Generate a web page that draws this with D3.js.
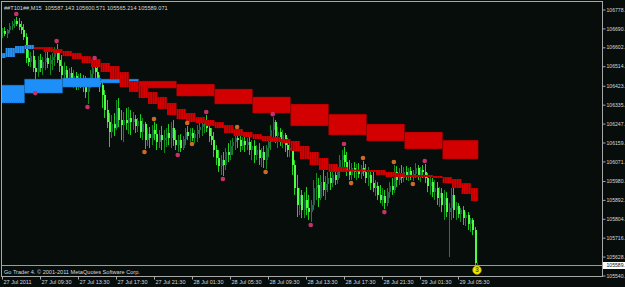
<!DOCTYPE html>
<html>
<head>
<meta charset="utf-8">
<script src="https://cdn.jsdelivr.net/npm/d3@7"></script>
<style>
body { margin: 0; background: #060d0b; overflow: hidden; }
text { font-family: "Liberation Sans", Arial, sans-serif; }
</style>
</head>
<body>
<script>
// M15 bars, 27 Jul 05:30 .. 29 Jul 07:30
const opens = [
106668,106678,106664,106682,106701,106710,106724,106710,106696,106682,
106650,106552,106533,106561,106505,106487,106543,106505,106533,106552,
106524,106543,106557,106580,106543,106515,106473,106496,106459,106482,
106450,106468,106431,106459,106440,106422,106394,106431,106478,106505,
106487,106450,106426,106380,106310,106254,106208,106245,106226,106319,
106264,106240,106264,106250,106273,106254,106268,106236,106259,106208,
106245,106170,106198,106180,106217,106198,106161,106194,106170,106180,
106203,106180,106226,106170,106147,106170,106133,106175,106208,106189,
106203,106180,106198,106217,106231,106245,106259,106226,106189,106170,
106124,106087,106049,106077,106054,106115,106101,106143,106161,106180,
106170,106143,106166,106147,106161,106124,106143,106101,106124,106087,
106115,106077,106133,106161,106217,106254,106189,106208,106170,106194,
106147,106124,106133,106054,105947,105868,105915,105845,105891,105854,
105835,105868,105947,105961,105901,105975,105938,105966,105994,105970,
106008,105984,106031,106077,106101,106068,106031,106008,106040,106022,
106031,106012,106040,106022,105994,106008,105970,105947,105956,105915,
105891,105910,105877,105928,105956,105938,106022,105984,106012,105994,
106022,106003,106026,105998,106012,106040,106008,106031,106022,105994,
105956,105975,105928,105947,105901,105924,105868,105901,105835,105854,
105915,105845,105863,105826,105845,105807,105821,105780,105798,105752,
105587.143];
const highs = [
106692,106696,106687,106715,106724,106734,106743,106738,106724,106710,
106668,106589,106580,106589,106543,106561,106571,106557,106580,106589,
106566,106575,106603,106617,106589,106566,106533,106515,106505,106510,
106496,106487,106478,106482,106473,106468,106450,106496,106524,106538,
106515,106473,106440,106403,106357,106296,106287,106296,106357,106366,
106310,106301,106319,106324,106310,106301,106287,106273,106291,106273,
106254,106226,106231,106240,106254,106245,106217,106236,106217,106226,
106245,106254,106264,106217,106194,106198,106189,106226,106236,106226,
106226,106217,106240,106254,106264,106273,106287,106264,106226,106208,
106147,106124,106101,106115,106133,106156,106170,106180,106203,106217,
106194,106184,106189,106180,106184,106170,106170,106147,106156,106133,
106143,106147,106180,106240,106277,106264,106231,106226,106217,106203,
106180,106170,106147,106077,106008,105947,105938,105928,105952,105915,
105891,105984,106017,105994,106008,106031,106003,106022,106031,106040,
106045,106054,106101,106124,106138,106115,106077,106063,106068,106059,
106063,106054,106073,106059,106045,106031,106022,105984,105975,105961,
105947,105938,105947,105975,105994,106054,106049,106040,106054,106045,
106049,106040,106045,106031,106063,106054,106045,106054,106059,106017,
106003,105994,105984,105975,105952,105947,105938,105928,105877,105947,
105952,105882,105877,105854,105863,105835,105835,105807,105807,105766,
105600.571];
const lows = [
106645,106654,106645,106668,106682,106692,106701,106682,106664,106636,
106529,106515,106510,106487,106403,106464,106487,106473,106496,106505,
106473,106496,106515,106529,106487,106436,106426,106431,106417,106426,
106412,106403,106403,106412,106394,106366,106338,106412,106450,106459,
106422,106394,106319,106273,106226,106138,106180,106189,106217,106231,
106170,106161,106217,106198,106194,106217,106203,106208,106180,106170,
106129,106143,106133,106147,106170,106124,106133,106124,106110,106138,
106147,106133,106143,106124,106115,106115,106124,106147,106170,106161,
106166,106156,106161,106180,106189,106203,106208,106161,106147,106091,
106054,106022,106008,106003,106031,106068,106077,106101,106124,106133,
106115,106124,106115,106124,106101,106077,106063,106077,106054,106045,
106040,106035,106091,106124,106170,106156,106133,106143,106133,106115,
106091,106091,106008,105915,105812,105821,105807,105807,105821,105798,
105789,105845,105891,105859,105891,105910,105891,105928,105938,105952,
105961,105966,105994,106022,106040,106003,105984,105984,105994,105984,
105994,105989,106003,105970,105956,105938,105928,105910,105891,105877,
105863,105849,105863,105901,105915,105924,105952,105961,105970,105975,
105984,105980,105984,105980,105994,105984,105975,105994,105970,105928,
105915,105905,105891,105868,105859,105835,105798,105812,105626,105798,
105807,105798,105807,105789,105775,105770,105752,105742,105728,105579,
105565.214];
const closes = [
106678,106664,106682,106701,106710,106724,106710,106696,106682,106650,
106552,106533,106561,106505,106487,106543,106505,106533,106552,106524,
106543,106557,106580,106543,106515,106473,106496,106459,106482,106450,
106468,106431,106459,106440,106422,106394,106431,106478,106505,106487,
106450,106426,106380,106310,106254,106208,106245,106226,106319,106264,
106240,106264,106250,106273,106254,106268,106236,106259,106208,106245,
106170,106198,106180,106217,106198,106161,106194,106170,106180,106203,
106180,106226,106170,106147,106170,106133,106175,106208,106189,106203,
106180,106198,106217,106231,106245,106259,106226,106189,106170,106124,
106087,106049,106077,106054,106115,106101,106143,106161,106180,106170,
106143,106166,106147,106161,106124,106143,106101,106124,106087,106115,
106077,106133,106161,106217,106254,106189,106208,106170,106194,106147,
106124,106133,106054,105947,105868,105915,105845,105891,105854,105835,
105868,105947,105961,105901,105975,105938,105966,105994,105970,106008,
105984,106031,106077,106101,106068,106031,106008,106040,106022,106031,
106012,106040,106022,105994,106008,105970,105947,105956,105915,105891,
105910,105877,105928,105956,105938,106022,105984,106012,105994,106022,
106003,106026,105998,106012,106040,106008,106031,106022,105994,105956,
105975,105928,105947,105901,105924,105868,105901,105835,105854,105915,
105845,105863,105826,105845,105807,105821,105780,105798,105752,105598,
105589.071];

// H1 band (one value per hour block)
const h1Upper = [106575,106599,106608,106613,106603,106603,106594,106585,106575,106561,
  106547,106529,106515,106487,106445,106422,106394,106371,106343,106315,
  106296,106277,106264,106254,106240,106222,106208,106198,106189,106184,
  106175,106166,106143,106115,106087,106059,106045,106033,106033,106031,
  106031,106022,106017,106008,106008,106008,106003,105998,105989,105970,105947];
const h1Lower = [106552,106557,106575,106594,106594,106580,106575,106561,106547,106529,
  106510,106487,106454,106417,106394,106366,106338,106315,106287,106268,
  106254,106250,106236,106226,106203,106189,106184,106175,106166,106161,
  106156,106119,106082,106054,106031,106022,106022,106024,106024,106022,
  106008,105998,105998,105998,105998,105998,105994,105970,105947,105919,105887];
const h1Dir = [1,1,1,1,-1,-1,-1,-1,-1,-1,-1,-1,-1,-1,-1,-1,-1,-1,-1,-1,-1,-1,-1,-1,-1,
  -1,-1,-1,-1,-1,-1,-1,-1,-1,-1,-1,-1,-1,-1,-1,-1,-1,-1,-1,-1,-1,-1,-1,-1,-1,-1];

// H4 band
const h4Upper = [106426,106454,106459,106454,106445,106431,106408,106371,106338,106291,106245,106208,106170];
const h4Lower = [106343,106389,106417,106436,106412,106375,106338,106296,106236,106194,106166,106129,106082];
const h4Dir = [1,1,1,1,-1,-1,-1,-1,-1,-1,-1,-1,-1];

// fractal dots
const pinkBars = [6,14,23,36,39,74,86,93,114,130,144,161,178];
const pinkPrices = [106757,106389,106631,106324,106552,106101,106301,105989,106291,105775,106152,105835,106073];
const orangeBars = [60,64,78,80,99,111,147,152,165,173];
const orangePrices = [106115,106268,106250,106152,106231,106022,105970,106087,106068,105966];

const signalBar = 200, signalPrice = 105565.214, signalText = "3";

const xTickBars = [0,16,32,48,64,80,96,112,128,144,160,176,192];
const xTickLabels = ["27 Jul 2011","27 Jul 09:30","27 Jul 13:30","27 Jul 17:30","27 Jul 21:30",
  "28 Jul 01:30","28 Jul 05:30","28 Jul 09:30","28 Jul 13:30","28 Jul 17:30","28 Jul 21:30",
  "29 Jul 01:30","29 Jul 05:30"];
const yTicks = [106778,106690,106602,106514,106423,106335,106247,106159,106071,105980,105892,105804,105716,105628,105540];

const symbol = "##T101##,M15";
const copyright = "Go Trader 4. \u00a9 2001-2011 MetaQuotes Software Corp.";

const w = 625;
const h = 287;
const n = closes.length;
const last = n - 1;

const x = d3.scaleLinear().domain([0, 200]).range([2, 477]);
const y = d3.scaleLinear().domain([105540, 106778]).range([275.5, 9.5]);
const half = (x(1) - x(0)) / 2;

const svg = d3.select("body")
  .append("svg")
  .attr("width", w)
  .attr("height", h);

const defs = svg.append("defs");
defs.append("clipPath").attr("id", "plot")
  .append("rect").attr("x", 2).attr("y", 2).attr("width", 600).attr("height", 274);

function stripes(id, base, dark) {
  const p = defs.append("pattern")
    .attr("id", id)
    .attr("patternUnits", "userSpaceOnUse")
    .attr("x", x(0) - half)
    .attr("width", half * 2)
    .attr("height", 4);
  p.append("rect").attr("width", half * 2).attr("height", 4).attr("fill", dark);
  p.append("rect").attr("width", half * 2 - 0.6).attr("height", 4).attr("fill", base);
}
stripes("redStripe", "#d80000", "#8a0000");
stripes("blueStripe", "#2a92f0", "#1a5fa8");

const plot = svg.append("g").attr("clip-path", "url(#plot)");

// candles
const bars = plot.append("g").selectAll("g")
  .data(d3.range(n))
  .enter()
  .append("g");

bars.append("line")
  .attr("x1", i => Math.round(x(i)) + 0.5)
  .attr("x2", i => Math.round(x(i)) + 0.5)
  .attr("y1", i => y(highs[i]))
  .attr("y2", i => y(lows[i]))
  .attr("stroke", i => closes[i] <= opens[i] ? "#1ed21e" : "#138a1c")
  .attr("stroke-width", 1);

bars.append("rect")
  .attr("x", i => Math.round(x(i)))
  .attr("y", i => y(Math.max(opens[i], closes[i])))
  .attr("width", 2)
  .attr("height", i => Math.max(1, Math.abs(y(opens[i]) - y(closes[i]))))
  .attr("fill", i => closes[i] <= opens[i] ? "#4cff40" : "#23634e")
  .attr("shape-rendering", "crispEdges");

// H4 blocks
plot.append("g").selectAll("rect")
  .data(d3.range(h4Upper.length))
  .enter()
  .append("rect")
  .attr("x", k => x(Math.max(0, 16 * k - 6)) - half)
  .attr("width", k => x(Math.min(last, 16 * k + 9)) - x(Math.max(0, 16 * k - 6)) + half * 2)
  .attr("y", k => y(h4Upper[k]))
  .attr("height", k => Math.max(1, y(h4Lower[k]) - y(h4Upper[k])))
  .attr("fill", k => h4Dir[k] > 0 ? "#1e8ff8" : "#d20000")
  .attr("stroke", k => h4Dir[k] > 0 ? "#1263b8" : "#7e0000")
  .attr("stroke-width", 0.8)
  .attr("stroke-dasharray", "1,1");

// H1 blocks
plot.append("g").selectAll("rect")
  .data(d3.range(h1Upper.length))
  .enter()
  .append("rect")
  .attr("x", j => x(Math.max(0, 4 * j - 2)) - half)
  .attr("width", j => x(Math.min(last, 4 * j + 1)) - x(Math.max(0, 4 * j - 2)) + half * 2)
  .attr("y", j => y(h1Upper[j]))
  .attr("height", j => Math.max(1.5, y(h1Lower[j]) - y(h1Upper[j])))
  .attr("fill", j => h1Dir[j] > 0 ? "url(#blueStripe)" : "url(#redStripe)");

// bid line
plot.append("line")
  .attr("x1", 2).attr("x2", 602)
  .attr("y1", Math.round(y(closes[last])) + 0.5)
  .attr("y2", Math.round(y(closes[last])) + 0.5)
  .attr("stroke", "#9a9a9a")
  .attr("stroke-width", 1);

// fractals
plot.append("g").selectAll("circle")
  .data(pinkBars)
  .enter()
  .append("circle")
  .attr("cx", (d) => x(d))
  .attr("cy", (d, i) => y(pinkPrices[i]))
  .attr("r", 2.3)
  .attr("fill", "#c8306c");

plot.append("g").selectAll("circle")
  .data(orangeBars)
  .enter()
  .append("circle")
  .attr("cx", (d) => x(d))
  .attr("cy", (d, i) => y(orangePrices[i]))
  .attr("r", 2.3)
  .attr("fill", "#cc6a2a");

const sig = plot.append("g")
  .attr("transform", "translate(" + x(signalBar) + "," + y(signalPrice) + ")");
sig.append("circle").attr("r", 4.3).attr("fill", "#f2e400").attr("stroke", "#b8a000").attr("stroke-width", 0.6);
sig.append("text")
  .attr("text-anchor", "middle")
  .attr("dy", "0.36em")
  .attr("font-size", "6.5px")
  .attr("font-weight", "bold")
  .attr("fill", "#6a5200")
  .text(signalText);

// frame
svg.append("rect")
  .attr("x", 1.5).attr("y", 1.5)
  .attr("width", 601).attr("height", 275)
  .attr("fill", "none")
  .attr("stroke", "#a8a8a8")
  .attr("stroke-width", 1);

// price axis
const yAxis = svg.append("g")
  .attr("transform", "translate(602.5,0)")
  .call(d3.axisRight(y).tickValues(yTicks).tickSize(3).tickPadding(1).tickFormat(d => d + "."));
yAxis.select(".domain").remove();
yAxis.selectAll("line").attr("stroke", "#a8a8a8");
yAxis.selectAll("text").attr("fill", "#d8d8d8").attr("font-size", "5.1px").attr("font-family", "Liberation Sans, Arial, sans-serif");

// time axis
const xAxis = svg.append("g")
  .attr("transform", "translate(0,276.5)")
  .call(d3.axisBottom(x).tickValues(xTickBars).tickSize(3).tickPadding(0.8).tickFormat((d, i) => xTickLabels[i]));
xAxis.select(".domain").remove();
xAxis.selectAll("line").attr("stroke", "#a8a8a8");
xAxis.selectAll("text")
  .attr("text-anchor", "start")
  .attr("dx", 1)
  .attr("fill", "#d8d8d8")
  .attr("font-size", "5.5px")
  .attr("font-family", "Liberation Sans, Arial, sans-serif");

// bid label
const bidY = Math.round(y(closes[last])) + 0.5;
svg.append("rect")
  .attr("x", 603).attr("y", bidY - 3.5)
  .attr("width", 22).attr("height", 7)
  .attr("fill", "#ffffff");
svg.append("text")
  .attr("x", 606.5).attr("y", bidY)
  .attr("dy", "0.34em")
  .attr("font-size", "5.1px")
  .attr("fill", "#101010")
  .text(Math.floor(closes[last]) + ".");

// header and footer
svg.append("text")
  .attr("x", 4).attr("y", 10)
  .attr("font-size", "5.6px")
  .attr("fill", "#d8d8d8")
  .attr("xml:space", "preserve")
  .style("white-space", "pre")
  .text(symbol + "  " + [opens[last], highs[last], lows[last], closes[last]].map(v => v.toFixed(3)).join(" "));

svg.append("text")
  .attr("x", 4).attr("y", 274)
  .attr("font-size", "5.6px")
  .attr("fill", "#d8d8d8")
  .text(copyright);
</script>
</body>
</html>
